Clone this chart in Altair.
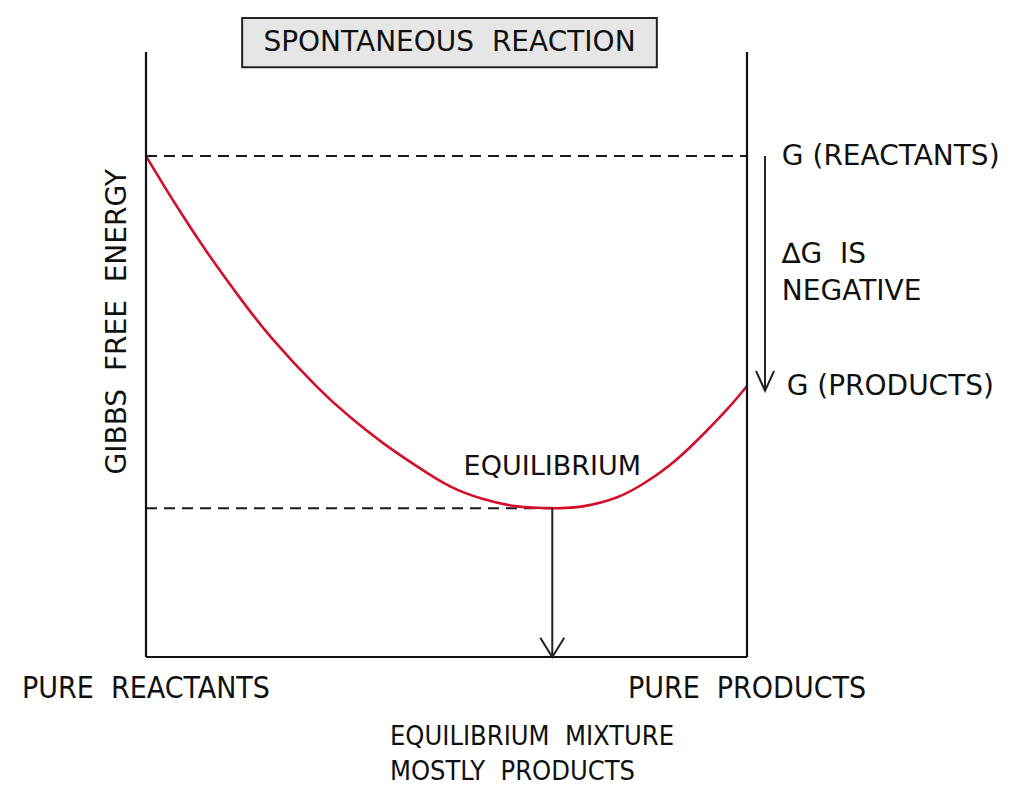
import altair as alt
import pandas as pd

# Gibbs free energy curve (x: % products, y: energy, arbitrary units)
curve_x = [0, 4.8, 10.1, 15.6, 21.1, 28.5, 33.9, 39.4, 45.1, 50.6, 56.1, 61.7, 67.6,
           72.7, 78.4, 83.0, 88.0, 93.3, 97.2, 100]
curve_y = [82.8, 75.0, 67.0, 59.4, 52.5, 44.6, 39.7, 35.4, 31.5, 28.2, 26.1, 24.9, 24.6,
           24.9, 26.4, 28.8, 32.4, 37.4, 41.5, 44.8]

g_reactants = 82.8
g_products = 44.8
eq_x = 67.6
eq_g = 24.6
delta_arrow_x = 103.0

# frame lines: (x, x2, y, y2)
frame_x = [0, 100, 0]
frame_x2 = [0, 100, 100]
frame_y = [0, 0, 0]
frame_y2 = [100, 100, 0]

# dashed reference lines
dash_x = [0, 0]
dash_x2 = [100, eq_x]
dash_y = [g_reactants, eq_g]

SP = "\u00a0\u00a0"

# labels
label_text = ["G (REACTANTS)", "∆G" + SP + "IS", "NEGATIVE", "G (PRODUCTS)"]
label_x = [105.8, 105.8, 105.8, 106.6]
label_y = [82.6, 66.4, 60.3, 44.6]

bottom_text = ["PURE" + SP + "REACTANTS", "PURE" + SP + "PRODUCTS"]
bottom_x = [0, 100]
bottom_y = [-5.3, -5.3]

mix_text = ["EQUILIBRIUM" + SP + "MIXTURE", "MOSTLY" + SP + "PRODUCTS"]
mix_x = [40.6, 40.6]
mix_y = [-13.3, -19.0]

title_text = "SPONTANEOUS" + SP + "REACTION"
title_box = dict(x=16.0, x2=85.0, y=105.6, y2=97.5)

FONT = "DejaVu Sans"
NARROW = "Liberation Sans Narrow, DejaVu Sans Condensed, DejaVu Sans"
INK = "#111111"

xs = alt.Scale(domain=[0, 100], nice=False, zero=False)
ys = alt.Scale(domain=[0, 100], nice=False, zero=False)


def X(f="x"):
    return alt.X(f"{f}:Q", scale=xs, axis=None)


def Y(f="y"):
    return alt.Y(f"{f}:Q", scale=ys, axis=None)


curve = alt.Chart(pd.DataFrame({"x": curve_x, "y": curve_y})).mark_line(
    color="#d2102c", strokeWidth=2.6, interpolate="natural"
).encode(x=X(), y=Y())

frame = alt.Chart(pd.DataFrame({"x": frame_x, "x2": frame_x2, "y": frame_y, "y2": frame_y2})).mark_rule(
    color=INK, strokeWidth=2.2
).encode(x=X(), x2="x2:Q", y=Y(), y2="y2:Q")

dashed = alt.Chart(pd.DataFrame({"x": dash_x, "x2": dash_x2, "y": dash_y})).mark_rule(
    color="#1a1a1a", strokeWidth=2, strokeDash=[11, 7]
).encode(x=X(), x2="x2:Q", y=Y())

arrows = alt.Chart(pd.DataFrame({
    "x": [eq_x, delta_arrow_x], "y": [eq_g, g_reactants], "y2": [0, g_products - 0.8]
})).mark_rule(color="#222222", strokeWidth=2).encode(x=X(), y=Y(), y2="y2:Q")

head1 = alt.Chart(pd.DataFrame({"x": [eq_x], "y": [0]})).mark_point(
    shape="M-1,-1.6L0,0L1,-1.6", size=576, filled=False, stroke="#222222", strokeWidth=2, opacity=1
).encode(x=X(), y=Y())

head2 = alt.Chart(pd.DataFrame({"x": [delta_arrow_x], "y": [g_products - 0.8]})).mark_point(
    shape="M-1,-2.2L0,0L1,-2.2", size=324, filled=False, stroke="#222222", strokeWidth=2, opacity=1
).encode(x=X(), y=Y())

box = alt.Chart(pd.DataFrame([title_box])).mark_rect(
    fill="#e6e6e6", stroke="#222222", strokeWidth=2
).encode(x=X(), x2="x2:Q", y=Y(), y2="y2:Q")

title = alt.Chart(pd.DataFrame({"x": [(title_box["x"] + title_box["x2"]) / 2],
                                "y": [(title_box["y"] + title_box["y2"]) / 2],
                                "t": [title_text]})).mark_text(
    font=FONT, fontSize=28, color=INK, align="center", baseline="middle"
).encode(x=X(), y=Y(), text="t:N")

labels = alt.Chart(pd.DataFrame({"x": label_x, "y": label_y, "t": label_text})).mark_text(
    font=FONT, fontSize=28, color=INK, align="left", baseline="middle"
).encode(x=X(), y=Y(), text="t:N")

eq_label = alt.Chart(pd.DataFrame({"x": [eq_x], "y": [31.4], "t": ["EQUILIBRIUM"]})).mark_text(
    font=FONT, fontSize=27, color=INK, align="center", baseline="middle"
).encode(x=X(), y=Y(), text="t:N")

ylabel = alt.Chart(pd.DataFrame({"x": [-4.7], "y": [55.4], "t": ["GIBBS" + SP + "FREE" + SP + "ENERGY"]})).mark_text(
    font=FONT, fontSize=28, color=INK, align="center", baseline="middle", angle=270
).encode(x=X(), y=Y(), text="t:N")

bottom = alt.Chart(pd.DataFrame({"x": bottom_x, "y": bottom_y, "t": bottom_text})).mark_text(
    font=NARROW, fontSize=30, color=INK, align="center", baseline="middle"
).encode(x=X(), y=Y(), text="t:N")

mix = alt.Chart(pd.DataFrame({"x": mix_x, "y": mix_y, "t": mix_text})).mark_text(
    font=NARROW, fontSize=27, color=INK, align="left", baseline="middle"
).encode(x=X(), y=Y(), text="t:N")

chart = alt.layer(
    dashed, curve, frame, arrows, head1, head2, box, title, labels, eq_label, ylabel, bottom, mix
).properties(
    width=601, height=605,
    padding={"left": 138, "top": 44, "right": 259, "bottom": 130},
    autosize=alt.AutoSizeParams(type="none"),
    background="white",
).configure_view(stroke=None)

chart.save("out.html", embed_options={"renderer": "svg", "actions": False})
